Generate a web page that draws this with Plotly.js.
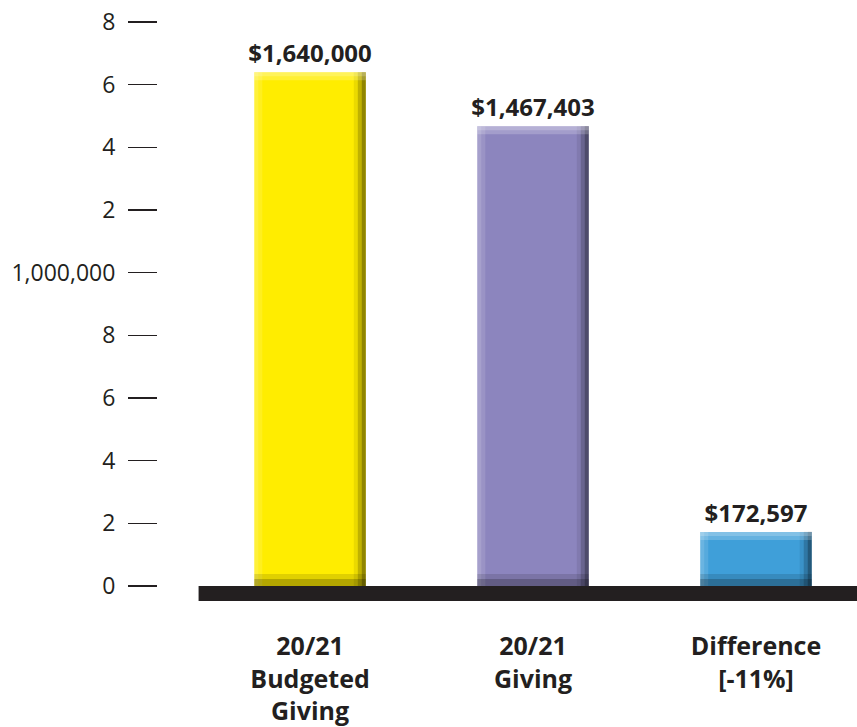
<!DOCTYPE html>
<html>
<head>
<meta charset="utf-8">
<script src="https://cdn.plot.ly/plotly-3.0.1.min.js"></script>
<style>html,body{margin:0;padding:0;background:#fff;}#chart{width:857px;height:727px;}</style>
</head>
<body>
<div id="chart"></div>
<script>
// ---- data ----
const categories = ['20/21<br>Budgeted<br>Giving', '20/21<br>Giving', 'Difference<br>[-11%]'];
const values = [1640000, 1467403, 172597];
const valueLabels = ['$1,640,000', '$1,467,403', '$172,597'];
const barColors = ['#FFED00', '#8C85BE', '#3F9FD9'];
const tickValues = [0, 200000, 400000, 600000, 800000, 1000000, 1200000, 1400000, 1600000, 1800000];
const tickLabels = ['0', '2', '4', '6', '8', '1,000,000', '2', '4', '6', '8'];

// ---- layout constants ----
const FONT = '"Open Sans", "Noto Sans", sans-serif';
const INK = '#231f20';
const plotTop = 22, plotBottom = 601, plotLeft = 158, W = 857, H = 727;
const baseDepth = 48000;                 // thickness of black floor in data units
const yRange = [-baseDepth, 1800000];
const xRange = [-0.682, 2.453];
const barWidth = 0.5;
const pxPerY = (plotBottom - plotTop) / (yRange[1] - yRange[0]);
const pxPerX = (W - plotLeft) / (xRange[1] - xRange[0]);
const dx = px => px / pxPerX;
const dy = px => px / pxPerY;

const traces = [];
// main bars
traces.push({
  type: 'bar', x: categories, y: values, width: barWidth,
  marker: {color: barColors, line: {width: 0}},
  text: valueLabels, textposition: 'outside', cliponaxis: false, constraintext: 'none',
  textfont: {family: FONT, size: 24, color: INK, weight: 'bold'},
  hoverinfo: 'skip', showlegend: false
});
// bevel overlays (derived from the same data)
function strip(opts) {
  traces.push(Object.assign({type: 'bar', x: categories, hoverinfo: 'skip', showlegend: false, textposition: 'none'}, opts));
}
const half = barWidth / 2;
// left light edge
strip({y: values, width: dx(8), offset: -half, marker: {color: 'rgba(255,255,255,0.12)', line: {width: 0}}});
strip({y: values, width: dx(4), offset: -half, marker: {color: 'rgba(255,255,255,0.12)', line: {width: 0}}});
// right dark edges (gradient-ish)
strip({y: values, width: dx(12), offset: half - dx(12), marker: {color: 'rgba(0,0,0,0.08)', line: {width: 0}}});
strip({y: values, width: dx(8), offset: half - dx(8), marker: {color: 'rgba(0,0,0,0.18)', line: {width: 0}}});
strip({y: values, width: dx(4), offset: half - dx(4), marker: {color: 'rgba(0,0,0,0.25)', line: {width: 0}}});
// top light edge
strip({y: values.map(() => dy(8)), base: values.map(v => v - dy(8)), width: barWidth,
       marker: {color: 'rgba(255,255,255,0.2)', line: {width: 0}}});
strip({y: values.map(() => dy(4)), base: values.map(v => v - dy(4)), width: barWidth,
       marker: {color: 'rgba(255,255,255,0.2)', line: {width: 0}}});
// bottom dark edge
strip({y: values.map(() => dy(12)), base: values.map(() => 0), width: barWidth,
       marker: {color: 'rgba(0,0,0,0.12)', line: {width: 0}}});
strip({y: values.map(() => dy(7)), base: values.map(() => 0), width: barWidth,
       marker: {color: 'rgba(0,0,0,0.2)', line: {width: 0}}});

const layout = {
  width: W, height: H,
  margin: {l: plotLeft, r: 0, t: plotTop, b: H - plotBottom, pad: 0},
  paper_bgcolor: '#ffffff', plot_bgcolor: '#ffffff',
  barmode: 'overlay',
  showlegend: false,
  font: {family: FONT, color: INK},
  xaxis: {
    type: 'category', range: xRange, showgrid: false, zeroline: false, showline: false,
    ticks: '', tickfont: {family: FONT, size: 25, color: INK, weight: 'bold'},
    ticklabelstandoff: 28, fixedrange: true
  },
  yaxis: {
    range: yRange, showgrid: false, zeroline: false, showline: false,
    tickmode: 'array', tickvals: tickValues, ticktext: tickLabels,
    ticks: 'outside', ticklen: 29, tickwidth: 1.2, tickcolor: INK,
    tickfont: {family: FONT, size: 23, color: INK},
    ticklabelstandoff: 8, fixedrange: true
  },
  shapes: [{
    type: 'rect', xref: 'x', yref: 'y', x0: -0.5, x1: xRange[1], y0: yRange[0], y1: 0,
    fillcolor: INK, line: {width: 0}, layer: 'above'
  }]
};

Plotly.newPlot('chart', traces, layout, {displayModeBar: false, staticPlot: true});
</script>
</body>
</html>
